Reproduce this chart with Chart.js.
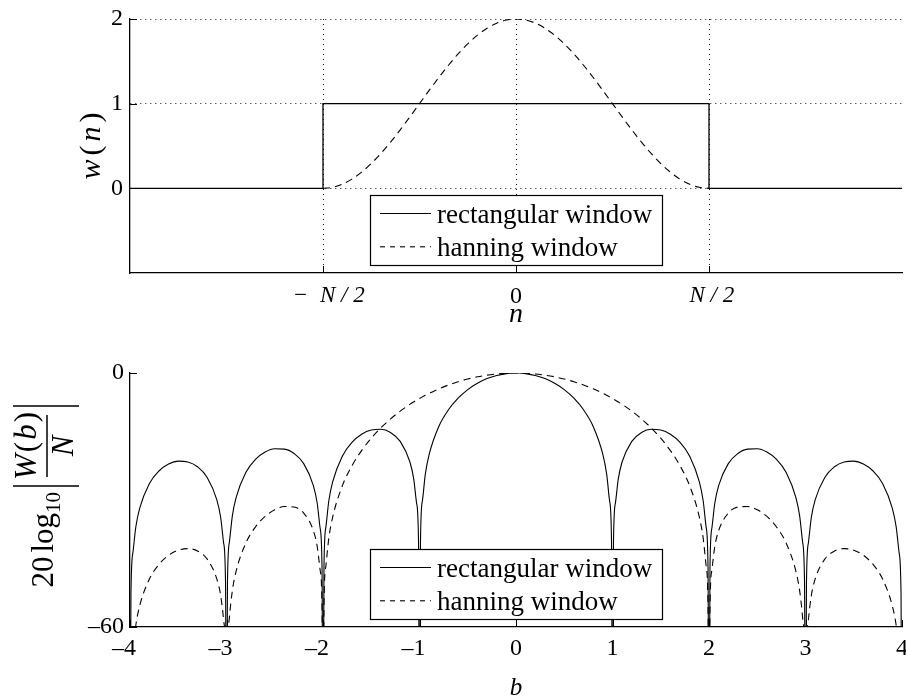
<!DOCTYPE html>
<html>
<head>
<meta charset="utf-8">
<script src="https://cdn.jsdelivr.net/npm/chart.js@4/dist/chart.umd.min.js"></script>
<style>
  html, body { margin: 0; padding: 0; background: #fff; }
  #wrap { position: relative; width: 906px; height: 697px; overflow: hidden; }
  #winChart { position: absolute; left: 0; top: 0; }
  #specChart { position: absolute; left: 0; top: 340px; }
</style>
</head>
<body>
<div id="wrap">
  <canvas id="winChart" width="906" height="340"></canvas>
  <canvas id="specChart" width="906" height="357"></canvas>
</div>
<script>
// ---- time-domain windows (n in units of the window length N) ----
const nRect = [-1, -0.5, -0.5, 0.5, 0.5, 1];
const wRect = [0, 0, 1, 1, 0, 0];

const nHann = [-0.5, -0.475, -0.45, -0.425, -0.4, -0.375, -0.35, -0.325, -0.3, -0.275,
  -0.25, -0.225, -0.2, -0.175, -0.15, -0.125, -0.1, -0.075, -0.05, -0.025,
  0, 0.025, 0.05, 0.075, 0.1, 0.125, 0.15, 0.175, 0.2, 0.225,
  0.25, 0.275, 0.3, 0.325, 0.35, 0.375, 0.4, 0.425, 0.45, 0.475, 0.5];
const wHann = [0, 0.01231, 0.04894, 0.10899, 0.19098, 0.29289, 0.41221, 0.54601, 0.69098, 0.84357,
  1, 1.15643, 1.30902, 1.45399, 1.58779, 1.70711, 1.80902, 1.89101, 1.95106, 1.98769,
  2, 1.98769, 1.95106, 1.89101, 1.80902, 1.70711, 1.58779, 1.45399, 1.30902, 1.15643,
  1, 0.84357, 0.69098, 0.54601, 0.41221, 0.29289, 0.19098, 0.10899, 0.04894, 0.01231, 0];

const winXTicks = [-0.5, 0, 0.5];
const winXTickLabels = ['\u2002\u2212\u2002N / 2', '0', '\u2005N / 2'];
const winYTicks = [0, 1, 2];

// ---- normalised spectra, dB (values below -60 fall outside the axis) ----
const bValues = [-4, -3.99, -3.97, -3.94, -3.9, -3.8, -3.7, -3.6, -3.5, -3.4, -3.3, -3.2, -3.1, -3.06, -3.03, -3.01,
  -3, -2.99, -2.97, -2.94, -2.9, -2.8, -2.7, -2.6, -2.5, -2.4, -2.3, -2.2, -2.1, -2.06, -2.03, -2.01,
  -2, -1.99, -1.97, -1.94, -1.9, -1.8, -1.7, -1.6, -1.5, -1.4, -1.3, -1.2, -1.1, -1.06, -1.03, -1.01,
  -1, -0.99, -0.97, -0.94, -0.9, -0.8, -0.7, -0.6, -0.5, -0.4, -0.3, -0.2, -0.1, -0.06, -0.03, -0.01,
  0, 0.01, 0.03, 0.06, 0.1, 0.2, 0.3, 0.4, 0.5, 0.6, 0.7, 0.8, 0.9, 0.94, 0.97, 0.99,
  1, 1.01, 1.03, 1.06, 1.1, 1.2, 1.3, 1.4, 1.5, 1.6, 1.7, 1.8, 1.9, 1.94, 1.97, 1.99,
  2, 2.01, 2.03, 2.06, 2.1, 2.2, 2.3, 2.4, 2.5, 2.6, 2.7, 2.8, 2.9, 2.94, 2.97, 2.99,
  3, 3.01, 3.03, 3.06, 3.1, 3.2, 3.3, 3.4, 3.5, 3.6, 3.7, 3.8, 3.9, 3.94, 3.97, 3.99, 4];

const rectDb = [-100, -52.020, -42.446, -36.399, -31.965, -26.155, -23.148, -21.505, -20.824, -21.009, -22.154, -24.662, -29.971, -34.203, -40.099, -49.572,
  -100, -49.514, -39.925, -33.856, -29.392, -23.502, -20.411, -18.678, -17.902, -17.983, -19.019, -21.407, -26.588, -30.766, -36.620, -46.065,
  -100, -45.978, -36.359, -30.245, -25.719, -19.664, -16.393, -14.461, -13.465, -13.302, -14.063, -16.143, -20.972, -24.995, -30.727, -40.087,
  -100, -39.914, -30.205, -23.952, -19.229, -12.621, -8.686, -5.942, -3.922, -2.420, -1.326, -0.580, -0.143, -0.052, -0.013, -0.001,
  0, -0.001, -0.013, -0.052, -0.143, -0.580, -1.326, -2.420, -3.922, -5.942, -8.686, -12.621, -19.229, -23.952, -30.205, -39.914,
  -100, -40.087, -30.727, -24.995, -20.972, -16.143, -14.063, -13.302, -13.465, -14.461, -16.393, -19.664, -25.719, -30.245, -36.359, -45.978,
  -100, -46.065, -36.620, -30.766, -26.588, -21.407, -19.019, -17.983, -17.902, -18.678, -20.411, -23.502, -29.392, -33.856, -39.925, -49.514,
  -100, -49.572, -40.099, -34.203, -29.971, -24.662, -22.154, -21.009, -20.824, -21.505, -23.148, -26.155, -31.965, -36.399, -42.446, -52.020, -100];

const hannDb = [-100, -75.495, -65.828, -59.641, -55.017, -48.723, -45.217, -43.060, -41.847, -41.482, -42.058, -43.975, -48.671, -52.651, -58.355, -67.699,
  -100, -67.511, -57.790, -51.522, -46.788, -40.203, -36.384, -33.886, -32.305, -31.535, -31.668, -33.094, -37.243, -40.987, -46.506, -55.723,
  -100, -55.404, -45.550, -39.075, -34.052, -26.669, -21.922, -18.324, -15.403, -12.947, -10.840, -9.012, -7.416, -6.835, -6.419, -6.151,
  -6.021, -5.891, -5.637, -5.271, -4.804, -3.747, -2.837, -2.066, -1.423, -0.906, -0.507, -0.225, -0.056, -0.021, -0.005, 0.000,
  0, 0.000, -0.005, -0.021, -0.056, -0.225, -0.507, -0.906, -1.423, -2.066, -2.837, -3.747, -4.804, -5.271, -5.637, -5.891,
  -6.021, -6.151, -6.419, -6.835, -7.416, -9.012, -10.840, -12.947, -15.403, -18.324, -21.922, -26.669, -34.052, -39.075, -45.550, -55.404,
  -100, -55.723, -46.506, -40.987, -37.243, -33.094, -31.668, -31.535, -32.305, -33.886, -36.384, -40.203, -46.788, -51.522, -57.790, -67.511,
  -100, -67.699, -58.355, -52.651, -48.671, -43.975, -42.058, -41.482, -41.847, -43.060, -45.217, -48.723, -55.017, -59.641, -65.828, -75.495, -100];

const specXTicks = [-4, -3, -2, -1, 0, 1, 2, 3, 4];
const specYTicks = [-60, 0];

const seriesNames = ['rectangular window', 'hanning window'];

// ---- shared drawing helpers ----
const SERIF = '"Liberation Serif", "Times New Roman", serif';
const TICK_SIZE = 24;
const DASH = [7, 5];

function pairs(xs, ys) { return xs.map((x, i) => ({ x: x, y: ys[i] })); }
function minusSign(v) { return v < 0 ? '\u2013' + Math.abs(v) : String(v); }
// x labels: the digits sit on the tick, the minus sign hangs to the left
function xNumber(v) { return v < 0 ? '\u2013' + Math.abs(v) + '\u2002' : String(v); }

function fixAxisX(h) {
  return function (scale) { scale.height = h; scale.paddingLeft = 0; scale.paddingRight = 0; };
}
function fixAxisY(w) {
  return function (scale) { scale.width = w; scale.paddingTop = 0; scale.paddingBottom = 0; };
}

function inwardTicks(chart, len) {
  const { ctx, chartArea: a, scales } = chart;
  ctx.save();
  ctx.strokeStyle = '#000';
  ctx.lineWidth = 1;
  ctx.beginPath();
  scales.x.ticks.forEach(t => {
    const px = Math.round(scales.x.getPixelForValue(t.value)) + 0.5;
    ctx.moveTo(px, a.bottom);
    ctx.lineTo(px, a.bottom - len);
  });
  scales.y.ticks.forEach(t => {
    const py = Math.round(scales.y.getPixelForValue(t.value)) + 0.5;
    ctx.moveTo(a.left, py);
    ctx.lineTo(a.left + len, py);
  });
  ctx.stroke();
  ctx.restore();
}

function drawLegend(chart) {
  const { ctx, chartArea: a } = chart;
  const w = 292, h = 70;
  const left = Math.round((a.left + a.right) / 2 - w / 2);
  const top = Math.round(a.bottom - 8 - h);
  ctx.save();
  ctx.fillStyle = '#fff';
  ctx.fillRect(left, top, w, h);
  ctx.strokeStyle = '#000';
  ctx.lineWidth = 1.2;
  ctx.strokeRect(left + 0.5, top + 0.5, w, h);
  chart.data.datasets.forEach((ds, i) => {
    const ly = top + 18.5 + i * 33.3;
    ctx.strokeStyle = '#000';
    ctx.lineWidth = 1.1;
    ctx.setLineDash(ds.borderDash ? [5, 5] : []);
    ctx.beginPath();
    ctx.moveTo(left + 10, ly);
    ctx.lineTo(left + 61, ly);
    ctx.stroke();
    ctx.setLineDash([]);
    ctx.fillStyle = '#000';
    ctx.font = '27px ' + SERIF;
    ctx.textBaseline = 'alphabetic';
    ctx.textAlign = 'left';
    ctx.fillText(ds.label, left + 67, top + 28 + i * 32.5);
  });
  ctx.restore();
}

// draw a run of differently styled text pieces starting at (x, y)
function runWidth(ctx, parts) {
  let w = 0;
  parts.forEach(p => { ctx.font = p.font; w += ctx.measureText(p.text).width + (p.gap || 0); });
  return w;
}
function drawRun(ctx, parts, x, y) {
  let cx = x;
  parts.forEach(p => {
    ctx.font = p.font;
    ctx.fillText(p.text, cx, y + (p.dy || 0));
    cx += ctx.measureText(p.text).width + (p.gap || 0);
  });
}

const it = s => 'italic ' + s + 'px ' + SERIF;
const rm = s => s + 'px ' + SERIF;

// ---- time-domain panel ----
const winDecor = {
  id: 'winDecor',
  afterDatasetsDraw(chart) { inwardTicks(chart, 7); },
  afterDraw(chart) {
    const { ctx, chartArea: a } = chart;
    drawLegend(chart);
    ctx.save();
    ctx.fillStyle = '#000';
    ctx.textBaseline = 'alphabetic';
    ctx.textAlign = 'left';
    // x-axis title
    const nParts = [{ text: 'n', font: it(28) }];
    drawRun(ctx, nParts, (a.left + a.right) / 2 - runWidth(ctx, nParts) / 2, 322);
    // y-axis title, rotated
    const yParts = [
      { text: 'w', font: it(30), gap: 4 },
      { text: '(', font: rm(30), gap: 4 },
      { text: 'n', font: it(30), gap: 4 },
      { text: ')', font: rm(30) }
    ];
    ctx.translate(92, (a.top + a.bottom) / 2);
    ctx.rotate(-Math.PI / 2);
    drawRun(ctx, yParts, -runWidth(ctx, yParts) / 2, 8);
    ctx.restore();
  }
};

new Chart(document.getElementById('winChart'), {
  type: 'line',
  data: {
    datasets: [
      { label: seriesNames[0], data: pairs(nRect, wRect), borderColor: '#000', borderWidth: 1.3,
        pointRadius: 0, tension: 0, fill: false, clip: 0 },
      { label: seriesNames[1], data: pairs(nHann, wHann), borderColor: '#000', borderWidth: 1.1,
        borderDash: DASH, pointRadius: 0, cubicInterpolationMode: 'monotone', fill: false, clip: 0 }
    ]
  },
  options: {
    responsive: false,
    animation: false,
    events: [],
    layout: { padding: { top: 19, right: 4, bottom: 0, left: 0 } },
    plugins: { legend: { display: false }, tooltip: { enabled: false } },
    scales: {
      x: {
        type: 'linear', min: -1, max: 1,
        afterBuildTicks: s => { s.ticks = winXTicks.map(v => ({ value: v })); },
        afterFit: fixAxisX(67),
        grid: { display: true, color: '#111', lineWidth: 1, drawTicks: false },
        border: { display: true, color: '#000', width: 1.3, dash: [1, 4] },
        ticks: {
          color: '#000', padding: 9, maxRotation: 0, autoSkip: false,
          font: c => (c.tick && c.tick.value !== 0)
            ? { family: SERIF, size: 23, style: 'italic' }
            : { family: SERIF, size: TICK_SIZE, style: 'normal' },
          callback: v => winXTickLabels[winXTicks.indexOf(v)]
        }
      },
      y: {
        type: 'linear', min: -1, max: 2,
        afterBuildTicks: s => { s.ticks = winYTicks.map(v => ({ value: v })); },
        afterFit: fixAxisY(130),
        grid: { display: true, color: '#111', lineWidth: 1, drawTicks: false },
        border: { display: true, color: '#000', width: 1.3, dash: [1, 4] },
        ticks: { color: '#000', padding: 7, font: { family: SERIF, size: TICK_SIZE }, callback: v => minusSign(v) }
      }
    }
  },
  plugins: [winDecor]
});

// ---- spectrum panel ----
const specDecor = {
  id: 'specDecor',
  afterDatasetsDraw(chart) { inwardTicks(chart, 7); },
  afterDraw(chart) {
    const { ctx, chartArea: a } = chart;
    drawLegend(chart);
    ctx.save();
    ctx.fillStyle = '#000';
    ctx.strokeStyle = '#000';
    ctx.textBaseline = 'alphabetic';
    ctx.textAlign = 'left';
    // x-axis title
    const bParts = [{ text: 'b', font: it(25) }];
    drawRun(ctx, bParts, (a.left + a.right) / 2 - runWidth(ctx, bParts) / 2, 355);
    // y-axis title: 20 log10 |W(b)/N|, rotated; origin at the fraction bar centre
    ctx.translate(47, (a.top + a.bottom) / 2 - 54);
    ctx.rotate(-Math.PI / 2);
    const logParts = [
      { text: '20', font: rm(31), gap: 4 },
      { text: 'log', font: rm(31) }
    ];
    const logW = runWidth(ctx, logParts);
    drawRun(ctx, logParts, -67 - logW, 6);
    ctx.font = rm(21);
    ctx.fillText('10', -67, 13);
    // fraction
    const numParts = [
      { text: 'W', font: it(31), gap: 2 },
      { text: '(', font: rm(31), gap: 2 },
      { text: 'b', font: it(31), gap: 2 },
      { text: ')', font: rm(31) }
    ];
    drawRun(ctx, numParts, -runWidth(ctx, numParts) / 2, -11);
    const denParts = [{ text: 'N', font: it(31) }];
    drawRun(ctx, denParts, -runWidth(ctx, denParts) / 2, 26);
    ctx.lineWidth = 1.5;
    ctx.beginPath();
    ctx.moveTo(-31, 0); ctx.lineTo(31, 0);
    // absolute-value bars
    ctx.moveTo(-40, -34); ctx.lineTo(-40, 32);
    ctx.moveTo(40, -34); ctx.lineTo(40, 32);
    ctx.stroke();
    ctx.restore();
  }
};

new Chart(document.getElementById('specChart'), {
  type: 'line',
  data: {
    datasets: [
      { label: seriesNames[0], data: pairs(bValues, rectDb), borderColor: '#000', borderWidth: 1.1,
        pointRadius: 0, cubicInterpolationMode: 'monotone', fill: false, clip: 0 },
      { label: seriesNames[1], data: pairs(bValues, hannDb), borderColor: '#000', borderWidth: 1.1,
        borderDash: DASH, pointRadius: 0, cubicInterpolationMode: 'monotone', fill: false, clip: 0 }
    ]
  },
  options: {
    responsive: false,
    animation: false,
    events: [],
    layout: { padding: { top: 33, right: 4, bottom: 0, left: 0 } },
    plugins: { legend: { display: false }, tooltip: { enabled: false } },
    scales: {
      x: {
        type: 'linear', min: -4, max: 4,
        afterBuildTicks: s => { s.ticks = specXTicks.map(v => ({ value: v })); },
        afterFit: fixAxisX(70),
        grid: { display: false, drawTicks: false },
        border: { display: true, color: '#000', width: 1.3 },
        ticks: { color: '#000', padding: 7, maxRotation: 0, autoSkip: false,
          font: { family: SERIF, size: TICK_SIZE }, callback: v => xNumber(v) }
      },
      y: {
        type: 'linear', min: -60, max: 0,
        afterBuildTicks: s => { s.ticks = specYTicks.map(v => ({ value: v })); },
        afterFit: fixAxisY(130),
        grid: { display: false, drawTicks: false },
        border: { display: true, color: '#000', width: 1.3 },
        ticks: { color: '#000', padding: 6, font: { family: SERIF, size: TICK_SIZE }, callback: v => minusSign(v) }
      }
    }
  },
  plugins: [specDecor]
});
</script>
</body>
</html>
